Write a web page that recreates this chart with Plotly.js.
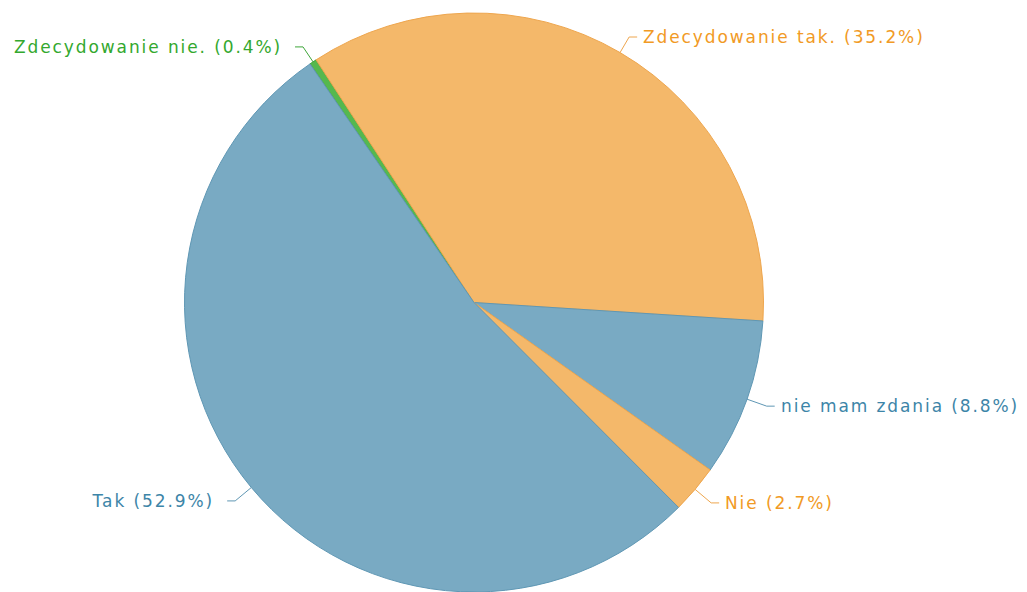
<!DOCTYPE html>
<html>
<head>
<meta charset="utf-8">
<script src="https://cdn.plot.ly/plotly-3.0.1.min.js"></script>
<style>
html,body{margin:0;padding:0;background:#fff;}
#chart{width:1027px;height:592px;}
#chart .annotation-text{letter-spacing:1.9px;}
</style>
</head>
<body>
<div id="chart"></div>
<script>
const labels = ["Zdecydowanie nie.", "Zdecydowanie tak.", "nie mam zdania", "Nie", "Tak"];
const values = [0.4, 35.2, 8.8, 2.7, 52.9];
const sliceColors = ["#55b84e", "#f4b86a", "#79aac3", "#f4b86a", "#79aac3"];
const borderColors = ["#3fa63a", "#eea64e", "#5f97b4", "#eea64e", "#5f97b4"];
const textColors = ["#33a82e", "#f19a25", "#3d85a8", "#f19a25", "#3d85a8"];

const W = 1027, H = 592;
const startAngle = -34.5;      // degrees clockwise from 12 o'clock
const cx = 474, cy = 302.5, R = 289.5;
const dom = {x: [(cx - R) / W, (cx + R) / W], y: [1 - (cy + R) / H, 1 - (cy - R) / H]};

const total = values.reduce((a, b) => a + b, 0);
const shapes = [], annotations = [];
let cum = 0;
values.forEach((v, i) => {
  const mid = (startAngle + 360 * (cum + v / 2) / total) * Math.PI / 180;
  cum += v;
  const sx = Math.sin(mid), sy = -Math.cos(mid);
  const p0 = [cx + R * sx, cy + R * sy];
  const ext = sy > 0 ? 21 : 18;
  const p1 = [cx + (R + ext) * sx, cy + (R + ext) * sy];
  const dir = sx >= 0 ? 1 : -1;
  const p2 = [p1[0] + dir * 8, p1[1]];
  const px = p => [p[0] / W, 1 - p[1] / H];
  const path = [p0, p1, p2].map(px);
  shapes.push({
    type: 'path', xref: 'paper', yref: 'paper',
    path: 'M' + path.map(q => q[0] + ',' + q[1]).join('L'),
    line: {color: borderColors[i], width: 1}
  });
  const gap = dir > 0 ? 4 : 11;
  const tp = px([p2[0] + dir * gap, p2[1]]);
  annotations.push({
    xref: 'paper', yref: 'paper', x: tp[0], y: tp[1],
    xanchor: dir > 0 ? 'left' : 'right', yanchor: 'middle',
    width: 320, align: dir > 0 ? 'left' : 'right',
    text: labels[i] + ' (' + v.toFixed(1) + '%)',
    showarrow: false,
    font: {family: 'DejaVu Sans, Verdana, sans-serif', size: 17, color: textColors[i]}
  });
});

Plotly.newPlot('chart', [{
  type: 'pie',
  labels: labels,
  values: values,
  sort: false,
  direction: 'clockwise',
  rotation: startAngle,
  textinfo: 'none',
  hoverinfo: 'label+percent',
  marker: {colors: sliceColors, line: {color: borderColors, width: 1}},
  domain: dom
}], {
  width: W, height: H,
  margin: {l: 0, r: 0, t: 0, b: 0},
  showlegend: false,
  paper_bgcolor: '#fff',
  shapes: shapes,
  annotations: annotations
}, {displayModeBar: false, staticPlot: true});
</script>
</body>
</html>
